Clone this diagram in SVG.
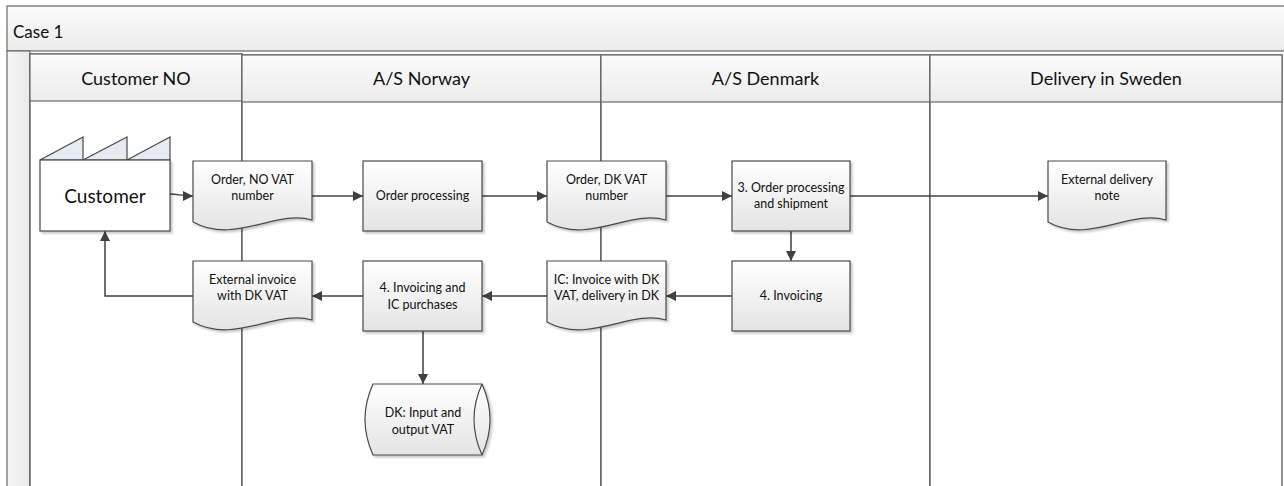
<svg xmlns="http://www.w3.org/2000/svg" width="1284" height="486" viewBox="0 0 1284 486">
  <defs>
    <linearGradient id="shapeFill" x1="0" y1="0" x2="0" y2="1">
      <stop offset="0" stop-color="#ffffff"/>
      <stop offset="1" stop-color="#e4e4e4"/>
    </linearGradient>
    <linearGradient id="headFill" x1="0" y1="0" x2="0" y2="1">
      <stop offset="0" stop-color="#fbfbfb"/>
      <stop offset="1" stop-color="#ececec"/>
    </linearGradient>
    <linearGradient id="stripFill" x1="0" y1="0" x2="1" y2="0">
      <stop offset="0" stop-color="#f6f6f6"/>
      <stop offset="1" stop-color="#e9e9e9"/>
    </linearGradient>
    <filter id="shadow" x="-10%" y="-10%" width="130%" height="130%">
      <feDropShadow dx="2" dy="2" stdDeviation="1.2" flood-color="#000" flood-opacity="0.22"/>
    </filter>
    <marker id="arrow" viewBox="0 0 10 10" refX="10" refY="5" markerWidth="10" markerHeight="10" markerUnits="userSpaceOnUse" orient="auto">
      <path d="M0,0 L10,5 L0,10 Z" fill="#404040"/>
    </marker>
  </defs>
  <style>
    .frame { fill: url(#headFill); stroke: #6a6a6a; stroke-width: 1.2; }
    .lane { fill: #ffffff; stroke: #555555; stroke-width: 1.3; }
    .head { fill: url(#headFill); stroke: #6a6a6a; stroke-width: 1.2; }
    .shape { fill: url(#shapeFill); stroke: #4a4a4a; stroke-width: 1.2; filter: url(#shadow); }
    .plain { fill: none; stroke: #4a4a4a; stroke-width: 1.2; }
    .roof { fill: #e6eaf3; stroke: #4a4a4a; stroke-width: 1.2; }
    .body { fill: #ffffff; stroke: #4a4a4a; stroke-width: 1.2; filter: url(#shadow); }
    .conn { fill: none; stroke: #404040; stroke-width: 1.5; marker-end: url(#arrow); }
    text { font-family: Lato, "Open Sans", "Liberation Sans", sans-serif; fill: #111111; text-anchor: middle; }
    .title { font-size: 17px; text-anchor: start; }
    .lanetitle { font-size: 18px; }
    .label { font-size: 12.5px; }
    .big { font-size: 19px; }
  </style>

  <!-- pool frame and title bar -->
  <g id="pool">
    <rect class="frame" x="7" y="6" width="1290" height="45"/>
    <text class="title" x="13" y="38">Case 1</text>
    <rect x="7" y="51" width="23" height="440" fill="url(#stripFill)" stroke="#6a6a6a" stroke-width="1.2"/>
  </g>

  <!-- swimlanes -->
  <g id="lane-customer-no">
    <rect class="lane" x="30" y="54" width="212" height="440"/>
    <rect class="head" x="30" y="54" width="212" height="47"/>
    <text class="lanetitle" x="136" y="85">Customer NO</text>
  </g>
  <g id="lane-as-norway">
    <rect class="lane" x="242" y="55" width="359" height="440"/>
    <rect class="head" x="242" y="55" width="359" height="47"/>
    <text class="lanetitle" x="421.5" y="85">A/S Norway</text>
  </g>
  <g id="lane-as-denmark">
    <rect class="lane" x="601" y="55" width="329" height="440"/>
    <rect class="head" x="601" y="55" width="329" height="47"/>
    <text class="lanetitle" x="765.5" y="85">A/S Denmark</text>
  </g>
  <g id="lane-delivery-sweden">
    <rect class="lane" x="930" y="55" width="352" height="440"/>
    <rect class="head" x="930" y="55" width="352" height="47"/>
    <text class="lanetitle" x="1106" y="85">Delivery in Sweden</text>
  </g>

  <!-- connectors -->
  <g id="connectors">
    <path class="conn" d="M170,194 C178,194 182,196 193,196"/>
    <path class="conn" d="M312,196 H363"/>
    <path class="conn" d="M482,196 H547"/>
    <path class="conn" d="M666,196 H732"/>
    <path class="conn" d="M850,196 H1048"/>
    <path class="conn" d="M791,231 V261"/>
    <path class="conn" d="M732,296 H666"/>
    <path class="conn" d="M547,296 H482"/>
    <path class="conn" d="M363,296 H312"/>
    <path class="conn" d="M193,296 H105 V231"/>
    <path class="conn" d="M423,331 V384"/>
  </g>

  <!-- nodes -->
  <g id="customer">
    <path class="roof" d="M40,160 L83,137 V160 Z M83,160 L127,137 V160 Z M127,160 L170,137 V160 Z"/>
    <rect class="body" x="40" y="160" width="130" height="71"/>
    <text class="big" x="105" y="203">Customer</text>
  </g>

  <g id="order-no-vat">
    <path class="shape" d="M193,161 H312 V220 C276,209 235,245 193,222 Z"/>
    <text class="label" x="252.5" y="184">Order, NO VAT</text>
    <text class="label" x="252.5" y="200">number</text>
  </g>

  <g id="external-invoice">
    <path class="shape" d="M193,261 H312 V320 C276,309 235,345 193,322 Z"/>
    <text class="label" x="252.5" y="284">External invoice</text>
    <text class="label" x="252.5" y="300">with DK VAT</text>
  </g>

  <g id="order-processing">
    <rect class="shape" x="363" y="161" width="119" height="70"/>
    <text class="label" x="422.5" y="200">Order processing</text>
  </g>

  <g id="invoicing-ic-purchases">
    <rect class="shape" x="363" y="261" width="119" height="70"/>
    <text class="label" x="422.5" y="292">4. Invoicing and</text>
    <text class="label" x="422.5" y="309">IC purchases</text>
  </g>

  <g id="dk-input-output-vat">
    <path class="shape" d="M373,384 H482 Q498,419.5 482,455 H373 Q357,419.5 373,384 Z"/>
    <path class="plain" d="M482,384 Q466,419.5 482,455"/>
    <text class="label" x="423" y="417">DK: Input and</text>
    <text class="label" x="423" y="434">output VAT</text>
  </g>

  <g id="order-dk-vat">
    <path class="shape" d="M547,161 H666 V220 C630,209 589,245 547,222 Z"/>
    <text class="label" x="606.5" y="184">Order, DK VAT</text>
    <text class="label" x="606.5" y="200">number</text>
  </g>

  <g id="ic-invoice">
    <path class="shape" d="M547,261 H666 V320 C630,309 589,345 547,322 Z"/>
    <text class="label" x="606.5" y="284">IC: Invoice with DK</text>
    <text class="label" x="606.5" y="300">VAT, delivery in DK</text>
  </g>

  <g id="order-processing-shipment">
    <rect class="shape" x="732" y="161" width="118" height="70"/>
    <text class="label" x="791" y="192">3. Order processing</text>
    <text class="label" x="791" y="208">and shipment</text>
  </g>

  <g id="invoicing">
    <rect class="shape" x="732" y="261" width="118" height="70"/>
    <text class="label" x="791" y="300">4. Invoicing</text>
  </g>

  <g id="external-delivery-note">
    <path class="shape" d="M1048,161 H1166 V220 C1130,209 1089,245 1048,222 Z"/>
    <text class="label" x="1107" y="184">External delivery</text>
    <text class="label" x="1107" y="200">note</text>
  </g>
</svg>
